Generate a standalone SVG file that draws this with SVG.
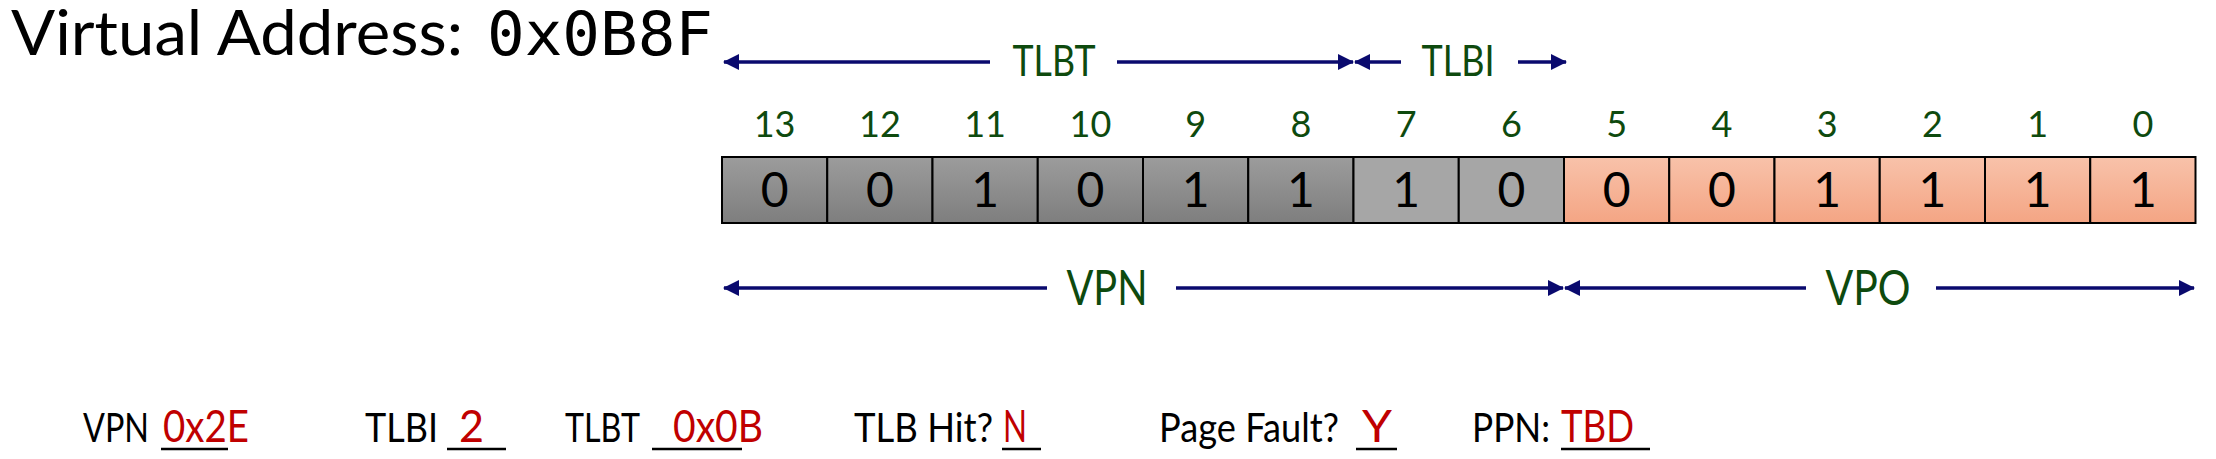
<svg xmlns="http://www.w3.org/2000/svg" width="2216" height="459" viewBox="0 0 2216 459">
<style>
.t{font-family:Lato,"Liberation Sans",sans-serif}
.m{font-family:"DejaVu Sans Mono","Liberation Mono",monospace}
.g{fill:#0E4A0E}
.bn{font-size:36px;text-anchor:middle}
.cd{font-size:48px;text-anchor:middle;fill:#000}
.cell{stroke:#000;stroke-width:2}
.ar{stroke:#0A0A6E;stroke-width:3.5;fill:none}
.ul{stroke:#000;stroke-width:2.5}
.k{fill:#000;font-size:40px}
.r{fill:#C00000;font-size:44px}
</style>
<defs>
<linearGradient id="dk" x1="0" y1="0" x2="0" y2="1"><stop offset="0" stop-color="#9C9C9C"/><stop offset="1" stop-color="#7E7E7E"/></linearGradient>
<linearGradient id="sa" x1="0" y1="0" x2="0" y2="1"><stop offset="0" stop-color="#F8C2AA"/><stop offset="1" stop-color="#F4A584"/></linearGradient>
<marker id="ah" markerUnits="userSpaceOnUse" markerWidth="16" markerHeight="16" refX="15" refY="8" orient="auto-start-reverse" viewBox="0 0 16 16"><path d="M0,0 L16,8 L0,16 z" fill="#0A0A6E"/></marker>
</defs>
<rect width="2216" height="459" fill="#fff"/>
<g id="title">
<text class="t" x="11" y="55" font-size="62" textLength="452" lengthAdjust="spacingAndGlyphs">Virtual Address:</text>
<text class="m" x="487" y="55" font-size="60" textLength="226" lengthAdjust="spacingAndGlyphs">0x0B8F</text>
</g>
<g id="connectors">
<line class="ar" x1="724" y1="62" x2="990" y2="62" marker-start="url(#ah)"/>
<line class="ar" x1="1117" y1="62" x2="1353" y2="62" marker-end="url(#ah)"/>
<line class="ar" x1="1355" y1="62" x2="1401" y2="62" marker-start="url(#ah)"/>
<line class="ar" x1="1518" y1="62" x2="1566" y2="62" marker-end="url(#ah)"/>
<line class="ar" x1="724" y1="288" x2="1047" y2="288" marker-start="url(#ah)"/>
<line class="ar" x1="1176" y1="288" x2="1563" y2="288" marker-end="url(#ah)"/>
<line class="ar" x1="1565" y1="288" x2="1806" y2="288" marker-start="url(#ah)"/>
<line class="ar" x1="1936" y1="288" x2="2194" y2="288" marker-end="url(#ah)"/>
</g>
<g id="labels" class="t g">
<text x="1054" y="76" font-size="43" text-anchor="middle" textLength="83" lengthAdjust="spacingAndGlyphs">TLBT</text>
<text x="1458" y="76" font-size="43" text-anchor="middle" textLength="73" lengthAdjust="spacingAndGlyphs">TLBI</text>
<text x="1107" y="305" font-size="48" text-anchor="middle" textLength="81" lengthAdjust="spacingAndGlyphs">VPN</text>
<text x="1868" y="305" font-size="48" text-anchor="middle" textLength="85" lengthAdjust="spacingAndGlyphs">VPO</text>
</g>
<g id="bitnums" class="t g bn">
<text x="774.6" y="137">13</text>
<text x="879.9" y="137">12</text>
<text x="985.1" y="137">11</text>
<text x="1090.4" y="137">10</text>
<text x="1195.6" y="137">9</text>
<text x="1300.9" y="137">8</text>
<text x="1406.1" y="137">7</text>
<text x="1511.4" y="137">6</text>
<text x="1616.6" y="137">5</text>
<text x="1721.9" y="137">4</text>
<text x="1827.1" y="137">3</text>
<text x="1932.4" y="137">2</text>
<text x="2037.6" y="137">1</text>
<text x="2142.9" y="137">0</text>
</g>
<g id="cells">
<rect class="cell" x="722" y="157" width="105.25" height="66" fill="url(#dk)"/>
<rect class="cell" x="827.25" y="157" width="105.25" height="66" fill="url(#dk)"/>
<rect class="cell" x="932.5" y="157" width="105.25" height="66" fill="url(#dk)"/>
<rect class="cell" x="1037.75" y="157" width="105.25" height="66" fill="url(#dk)"/>
<rect class="cell" x="1143" y="157" width="105.25" height="66" fill="url(#dk)"/>
<rect class="cell" x="1248.25" y="157" width="105.25" height="66" fill="url(#dk)"/>
<rect class="cell" x="1353.5" y="157" width="105.25" height="66" fill="#A6A6A6"/>
<rect class="cell" x="1458.75" y="157" width="105.25" height="66" fill="#A6A6A6"/>
<rect class="cell" x="1564" y="157" width="105.25" height="66" fill="url(#sa)"/>
<rect class="cell" x="1669.25" y="157" width="105.25" height="66" fill="url(#sa)"/>
<rect class="cell" x="1774.5" y="157" width="105.25" height="66" fill="url(#sa)"/>
<rect class="cell" x="1879.75" y="157" width="105.25" height="66" fill="url(#sa)"/>
<rect class="cell" x="1985" y="157" width="105.25" height="66" fill="url(#sa)"/>
<rect class="cell" x="2090.25" y="157" width="105.25" height="66" fill="url(#sa)"/>
<g class="t cd">
<text x="774.6" y="207">0</text>
<text x="879.9" y="207">0</text>
<text x="985.1" y="207">1</text>
<text x="1090.4" y="207">0</text>
<text x="1195.6" y="207">1</text>
<text x="1300.9" y="207">1</text>
<text x="1406.1" y="207">1</text>
<text x="1511.4" y="207">0</text>
<text x="1616.6" y="207">0</text>
<text x="1721.9" y="207">0</text>
<text x="1827.1" y="207">1</text>
<text x="1932.4" y="207">1</text>
<text x="2037.6" y="207">1</text>
<text x="2142.9" y="207">1</text>
</g>
</g>
<g id="answers" class="t">
<text class="k" x="83" y="442" textLength="66" lengthAdjust="spacingAndGlyphs">VPN</text>
<line class="ul" x1="161" y1="449" x2="228" y2="449"/>
<text class="r" x="163" y="442" textLength="86" lengthAdjust="spacingAndGlyphs">0x2E</text>
<text class="k" x="365" y="442" textLength="73" lengthAdjust="spacingAndGlyphs">TLBI</text>
<line class="ul" x1="447" y1="449" x2="506" y2="449"/>
<text class="r" x="459" y="442" textLength="25" lengthAdjust="spacingAndGlyphs">2</text>
<text class="k" x="565" y="442" textLength="75" lengthAdjust="spacingAndGlyphs">TLBT</text>
<line class="ul" x1="652" y1="449" x2="742" y2="449"/>
<text class="r" x="673" y="442" textLength="90" lengthAdjust="spacingAndGlyphs">0x0B</text>
<text class="k" x="854" y="442" textLength="139" lengthAdjust="spacingAndGlyphs">TLB Hit?</text>
<line class="ul" x1="1002" y1="449" x2="1041" y2="449"/>
<text class="r" x="1003" y="442" textLength="24" lengthAdjust="spacingAndGlyphs">N</text>
<text class="k" x="1159" y="442" textLength="180" lengthAdjust="spacingAndGlyphs">Page Fault?</text>
<line class="ul" x1="1356" y1="449" x2="1397" y2="449"/>
<text class="r" x="1362" y="442" font-size="42" textLength="30" lengthAdjust="spacingAndGlyphs">Y</text>
<text class="k" x="1472" y="442" textLength="78" lengthAdjust="spacingAndGlyphs">PPN:</text>
<line class="ul" x1="1561" y1="449" x2="1650" y2="449"/>
<text class="r" x="1561" y="442" textLength="73" lengthAdjust="spacingAndGlyphs">TBD</text>
</g>
</svg>
